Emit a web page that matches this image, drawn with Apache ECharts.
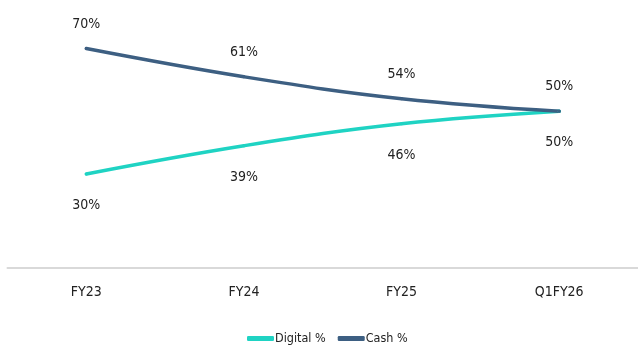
<!DOCTYPE html>
<html>
<head>
<meta charset="utf-8">
<script src="https://cdn.jsdelivr.net/npm/echarts@6/dist/echarts.min.js"></script>
<style>
html,body{margin:0;padding:0;background:#fff;}
#c{width:638px;height:359px;}
</style>
</head>
<body>
<div id="c"></div>
<script>
var categories = ['FY23', 'FY24', 'FY25', 'Q1FY26'];
var digital = [30, 39, 46, 50];
var cash = [70, 61, 54, 50];

var FONT = "'DejaVu Sans Condensed', sans-serif";
var chart = echarts.init(document.getElementById('c'), null, {renderer: 'canvas'});
chart.setOption({
  backgroundColor: '#ffffff',
  animation: false,
  grid: {left: 7.5, right: -5.5, top: 17.2, bottom: 91},
  legend: {
    left: 242, top: 327,
    itemWidth: 27, itemHeight: 5, itemGap: 12,
    icon: 'roundRect',
    textStyle: {fontFamily: FONT, fontSize: 12.5, color: '#222', padding: [0, 0, 0, -4]},
    data: ['Digital %', 'Cash %']
  },
  xAxis: {
    type: 'category',
    data: categories,
    boundaryGap: true,
    axisLine: {show: true, lineStyle: {color: '#d9d9d9', width: 2}},
    axisTick: {show: false},
    axisLabel: {fontFamily: FONT, fontSize: 14, color: '#222', margin: 17}
  },
  yAxis: {
    type: 'value', min: 0, max: 80,
    show: false,
    splitLine: {show: false}
  },
  series: [
    {
      name: 'Digital %', type: 'line', data: digital, smooth: 0.4,
      symbol: 'circle', symbolSize: 3, showSymbol: true,
      color: '#1fd3c3', itemStyle: {color: '#1fd3c3'},
      lineStyle: {width: 3.5, color: '#1fd3c3', cap: 'round'},
      label: {show: true, position: 'bottom', distance: 23, formatter: '{c}%',
              fontFamily: FONT, fontSize: 14, color: '#222'}
    },
    {
      name: 'Cash %', type: 'line', data: cash, smooth: 0.4,
      symbol: 'circle', symbolSize: 3, showSymbol: true,
      color: '#3d5f82', itemStyle: {color: '#3d5f82'},
      lineStyle: {width: 3.5, color: '#3d5f82', cap: 'round'},
      label: {show: true, position: 'top', distance: 16, formatter: '{c}%',
              fontFamily: FONT, fontSize: 14, color: '#222'}
    }
  ]
});
</script>
</body>
</html>
